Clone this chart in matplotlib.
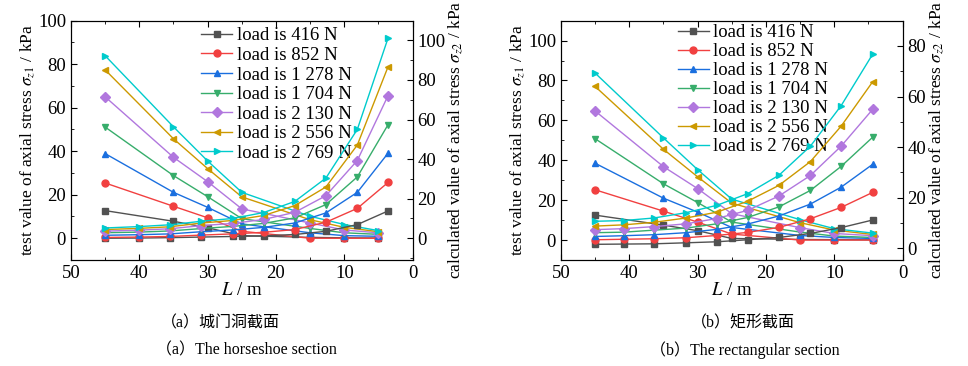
import matplotlib
matplotlib.use("Agg")
import matplotlib.pyplot as plt
from matplotlib.ticker import MultipleLocator

plt.rcParams['font.family'] = ['Liberation Serif', 'Noto Sans CJK SC']
plt.rcParams['mathtext.fontset'] = 'stix'
plt.rcParams['font.size'] = 12.5

# Loads (legend labels)
loads = ['416', '852', '1 278', '1 704', '2 130', '2 556', '2 769']
colors = ['#515151', '#F14040', '#1A6FDF', '#37AD6B', '#B177DE', '#CC9900', '#00CBCC']
markers = ['s', 'o', '^', 'v', 'D', '<', '>']

# (a) horseshoe section
a_x_test = [45, 35, 30, 25, 15, 10, 5]
a_test = [
    [12.7, 7.8, 4.8, 1.2, 0.4, 0.2, 0.1],
    [25.4, 14.7, 9.4, 3.2, 0.0, 0.0, 0.0],
    [38.9, 21.1, 14.2, 6.6, 2.5, 1.2, 0.9],
    [51.1, 28.8, 19.1, 9.0, 4.5, 2.5, 1.8],
    [65.0, 37.2, 26.0, 13.5, 7.0, 3.8, 2.5],
    [77.4, 45.7, 32.0, 19.0, 8.5, 5.0, 3.0],
    [83.9, 51.2, 35.5, 21.1, 10.1, 6.3, 3.5],
]
a_x_calc = [45, 40, 35.5, 30.9, 26.3, 21.8, 17.25, 12.7, 8.1, 3.6]
a_calc = [
    [0.0, 0.1, 0.3, 0.6, 0.9, 1.2, 1.9, 3.5, 6.9, 13.8],
    [0.4, 0.6, 0.9, 1.6, 2.2, 3.0, 4.4, 8.1, 15.1, 28.2],
    [1.5, 1.8, 2.2, 3.3, 4.2, 5.5, 7.7, 12.8, 23.2, 43.0],
    [2.8, 3.1, 3.7, 4.9, 6.0, 7.5, 10.3, 17.0, 31.0, 57.4],
    [3.6, 4.1, 4.8, 6.4, 7.5, 9.5, 13.1, 21.5, 39.3, 72.1],
    [4.4, 5.0, 5.8, 7.7, 9.0, 11.5, 16.5, 25.9, 47.1, 86.7],
    [5.2, 5.9, 6.8, 8.6, 10.0, 13.0, 18.6, 30.4, 55.0, 101.2],
]

# (b) rectangular section
b_x_test = [45, 35, 30, 25, 15, 10, 4.4]
b_test = [
    [12.5, 7.5, 4.7, 0.8, 0.3, 0.2, 0.1],
    [25.2, 14.5, 9.0, 3.0, 0.0, 0.0, 0.0],
    [38.5, 21.0, 14.0, 6.3, 2.3, 1.3, 0.8],
    [50.8, 28.2, 18.8, 9.0, 4.0, 2.0, 1.3],
    [64.7, 36.8, 25.8, 13.2, 6.2, 3.3, 2.2],
    [77.0, 45.5, 31.7, 18.5, 8.7, 5.0, 2.8],
    [83.7, 51.2, 35.3, 20.5, 10.2, 5.7, 3.5],
]
b_x_calc = [45, 40.8, 36.4, 31.7, 27.2, 22.7, 18.1, 13.5, 9.0, 4.4]
b_calc = [
    [1.6, 1.7, 1.8, 2.2, 2.6, 3.4, 4.3, 5.9, 8.2, 11.2],
    [3.4, 3.6, 3.8, 4.2, 5.1, 6.3, 8.3, 11.7, 16.2, 22.1],
    [4.7, 5.0, 5.4, 6.2, 7.5, 9.6, 12.8, 17.5, 24.2, 33.2],
    [6.2, 6.4, 7.2, 8.0, 9.7, 12.2, 16.4, 22.9, 32.4, 43.9],
    [7.4, 7.8, 8.6, 9.7, 11.8, 15.0, 20.7, 28.8, 40.4, 54.9],
    [8.8, 9.3, 10.3, 12.0, 14.3, 18.6, 24.9, 34.3, 48.3, 65.8],
    [10.7, 11.0, 12.0, 14.1, 17.0, 21.6, 28.9, 40.4, 56.4, 76.7],
]

fig = plt.figure(figsize=(9.68, 3.66), dpi=100)


def panel(rect, x_test, test, x_calc, calc, ylim1, ylim2, yticks2, leg_xy, spacing):
    ax = fig.add_axes(rect)
    ax2 = ax.twinx()
    handles = []
    for i in range(len(loads)):
        h, = ax.plot(x_test, test[i], color=colors[i], marker=markers[i],
                     markersize=5, linewidth=1, label='load is %s N' % loads[i])
        ax2.plot(x_calc, calc[i], color=colors[i], marker=markers[i],
                 markersize=5, linewidth=1)
        handles.append(h)
    ax.set_xlim(50, 0)
    ax.set_ylim(*ylim1)
    ax2.set_ylim(*ylim2)
    ax.set_xticks([50, 40, 30, 20, 10, 0])
    ax.xaxis.set_minor_locator(MultipleLocator(5))
    ax.set_yticks([0, 20, 40, 60, 80, 100])
    ax.yaxis.set_minor_locator(MultipleLocator(10))
    ax2.set_yticks(yticks2)
    ax2.yaxis.set_minor_locator(MultipleLocator(10))
    ax.tick_params(which='both', direction='in', top=True, labelsize=13.5)
    ax.tick_params(which='major', length=4)
    ax.tick_params(which='minor', length=2)
    ax2.tick_params(which='both', direction='in', labelsize=13.5)
    ax2.tick_params(which='major', length=4)
    ax2.tick_params(which='minor', length=2)
    ax.set_xlabel(r'$L$ / m', labelpad=0, fontsize=13.5)
    ax.set_ylabel(r'test value of axial stress $\sigma_{z1}$ / kPa', labelpad=1)
    ax2.set_ylabel(r'calculated value of axial stress $\sigma_{z2}$ / kPa', labelpad=1)
    ax.legend(handles=handles, loc='upper left', bbox_to_anchor=leg_xy,
              frameon=False, fontsize=13.5, handlelength=1.65, handletextpad=0.25,
              labelspacing=spacing, borderpad=0, borderaxespad=0)
    return ax


panel([0.0733, 0.2896, 0.353, 0.654], a_x_test, a_test, a_x_calc, a_calc,
      (-10, 100), (-11, 110), [0, 20, 40, 60, 80, 100], (0.382, 0.972), 0.13)
panel([0.5795, 0.2896, 0.353, 0.654], b_x_test, b_test, b_x_calc, b_calc,
      (-10, 110), (-4.6, 90), [0, 20, 40, 60, 80], (0.342, 0.985), 0.1)

fig.text(220 / 968, 1 - 323 / 366, '（a）城门洞截面', ha='center', va='center', fontsize=11.5)
fig.text(246 / 968, 1 - 350 / 366, '（a）The horseshoe section', ha='center', va='center', fontsize=11.5)
fig.text(743 / 968, 1 - 323 / 366, '（b）矩形截面', ha='center', va='center', fontsize=11.5)
fig.text(745 / 968, 1 - 350 / 366, '（b）The rectangular section', ha='center', va='center', fontsize=11.5)

fig.savefig('out.png', dpi=100)
